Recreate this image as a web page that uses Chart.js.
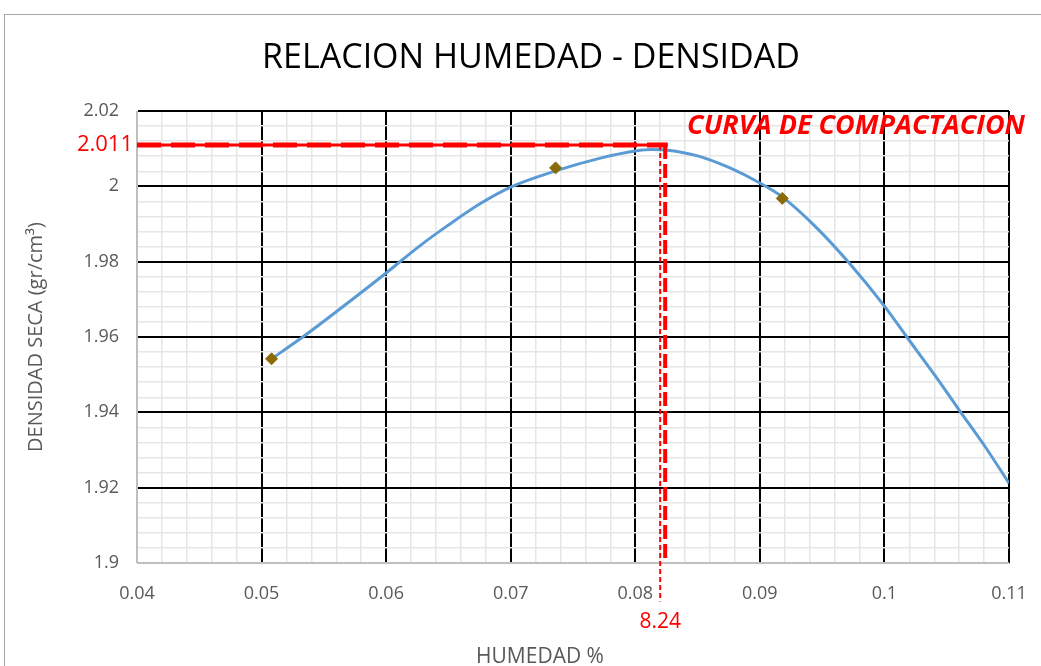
<!DOCTYPE html>
<html>
<head>
<meta charset="utf-8">
<script src="https://cdn.jsdelivr.net/npm/chart.js@4.4.1/dist/chart.umd.min.js"></script>
<style>
    html, body { margin: 0; padding: 0; background: #ffffff; overflow: hidden; }
    #frame { position: absolute; left: 4px; top: 14px; width: 1100px; height: 700px; border: 1px solid #a6a6a6; }
    #chart { position: absolute; left: 0; top: 0; }
</style>
</head>
<body>
<div id="frame"></div>
<canvas id="chart" width="1041" height="666"></canvas>
<script>
// ensayo proctor - puntos medidos
const humedad = [0.0508, 0.0736, 0.0918];
const densidad = [1.9542, 2.0049, 1.9968];

// curva de compactacion
const curvaHumedad = [0.0508, 0.0533, 0.0567, 0.06, 0.0627, 0.0649, 0.0675, 0.07, 0.0736, 0.0772, 0.08, 0.0813, 0.0826, 0.085, 0.0876, 0.09, 0.0918, 0.0944, 0.0971, 0.10, 0.1018, 0.1041, 0.106, 0.1081, 0.11];
const curvaDensidad = [1.9542, 1.9600, 1.9685, 1.9770, 1.9842, 1.9895, 1.9953, 1.9998, 2.0041, 2.0075, 2.0094, 2.0098, 2.0096, 2.0081, 2.0049, 2.0009, 1.9972, 1.9895, 1.9799, 1.9682, 1.9600, 1.9496, 1.9406, 1.9308, 1.9212];

// maxima densidad seca y humedad optima
const densidadMax = 2.011;
const humedadOptima = 0.0824;
const humedadOptimaGuia = 0.0820;
const etiquetaDensidad = '2.011';
const etiquetaHumedad = '8.24';

const xTickLabels = ['0.04', '0.05', '0.06', '0.07', '0.08', '0.09', '0.1', '0.11'];
const yTickLabels = ['1.9', '1.92', '1.94', '1.96', '1.98', '2', '2.02'];

const ROJO = '#ff0000';
const GRIS = '#595959';
const FONT = 'Open Sans';

const curva = curvaHumedad.map((x, i) => ({x: x, y: curvaDensidad[i]}));
const puntos = humedad.map((x, i) => ({x: x, y: densidad[i]}));

function gridColor(ctx) {
    if (ctx.index === 0) return '#bfbfbf';
    return ctx.index % 5 === 0 ? '#000000' : '#e6e6e6';
}
function gridWidth(ctx) {
    return ctx.index % 5 === 0 ? 2 : 1.5;
}

// textos: titulo, etiquetas en rojo, rotulo de la curva y titulo del eje x
const anotaciones = {
    id: 'anotaciones',
    afterDraw(chart) {
        const c = chart.ctx;
        const xs = chart.scales.x, ys = chart.scales.y;
        const area = chart.chartArea;
        c.save();
        c.textBaseline = 'middle';
        c.fillStyle = '#000000';
        c.font = '34px "' + FONT + '"';
        c.textAlign = 'center';
        c.fillText('RELACION HUMEDAD - DENSIDAD', 531, 58);

        c.fillStyle = ROJO;
        c.font = '22px "' + FONT + '"';
        c.textAlign = 'right';
        c.fillText(etiquetaDensidad, area.left - 4, ys.getPixelForValue(densidadMax));
        c.font = '21px "' + FONT + '"';
        c.textAlign = 'center';
        c.fillText(etiquetaHumedad, xs.getPixelForValue(humedadOptimaGuia), area.bottom + 59);
        c.font = 'italic bold 27px "' + FONT + '"';
        c.textAlign = 'right';
        c.fillText('CURVA DE COMPACTACION', area.right + 16, area.top + 15);

        c.fillStyle = GRIS;
        c.font = '21px "' + FONT + '"';
        c.textAlign = 'center';
        c.fillText('HUMEDAD %', 540, area.bottom + 94);
        c.restore();
    }
};

const config = {
    type: 'scatter',
    data: {
        datasets: [
            {
                data: curva,
                showLine: true,
                borderColor: '#5b9bd5',
                borderWidth: 3,
                pointRadius: 0,
                cubicInterpolationMode: 'monotone',
                order: 3
            },
            {
                data: puntos,
                showLine: false,
                pointStyle: 'rectRot',
                pointRadius: 6,
                pointBackgroundColor: '#8b6a08',
                pointBorderColor: '#8b6a08',
                order: 1
            },
            {
                data: [{x: 0.04, y: densidadMax}, {x: 0.0826, y: densidadMax}],
                showLine: true,
                borderColor: ROJO,
                borderWidth: 3,
                pointRadius: 0,
                order: 2
            },
            {
                data: [{x: 0.04, y: densidadMax}, {x: 0.0826, y: densidadMax}],
                showLine: true,
                borderColor: ROJO,
                borderWidth: 5,
                borderDash: [24, 10],
                pointRadius: 0,
                order: 2
            },
            {
                data: [{x: humedadOptima, y: densidadMax}, {x: humedadOptima, y: 1.9}],
                showLine: true,
                borderColor: ROJO,
                borderWidth: 4,
                borderDash: [14, 5],
                pointRadius: 0,
                order: 2
            },
            {
                data: [{x: humedadOptimaGuia, y: densidadMax}, {x: humedadOptimaGuia, y: 1.8898}],
                showLine: true,
                borderColor: ROJO,
                borderWidth: 2,
                borderDash: [5, 3],
                pointRadius: 0,
                clip: false,
                order: 2
            }
        ]
    },
    options: {
        responsive: false,
        animation: false,
        layout: {
            padding: {left: 0, right: 32, top: 111, bottom: 0}
        },
        plugins: {
            legend: {display: false},
            tooltip: {enabled: false},
            title: {display: false}
        },
        scales: {
            x: {
                type: 'linear',
                min: 0.04,
                max: 0.11,
                afterFit: (s) => { s.height = 103; s.paddingLeft = 0; s.paddingRight = 0; },
                ticks: {
                    stepSize: 0.002,
                    autoSkip: false,
                    maxRotation: 0,
                    padding: 20,
                    color: GRIS,
                    font: {family: FONT, size: 18},
                    callback: (v, i) => (i % 5 === 0 ? xTickLabels[i / 5] : '')
                },
                grid: {color: gridColor, lineWidth: gridWidth, drawTicks: false},
                border: {color: '#bfbfbf', width: 1}
            },
            y: {
                type: 'linear',
                min: 1.9,
                max: 2.02,
                afterFit: (s) => { s.width = 137; s.paddingTop = 0; s.paddingBottom = 0; },
                ticks: {
                    stepSize: 0.004,
                    autoSkip: false,
                    padding: 18,
                    color: GRIS,
                    font: {family: FONT, size: 18},
                    callback: (v, i) => (i % 5 === 0 ? yTickLabels[i / 5] : '')
                },
                grid: {color: gridColor, lineWidth: gridWidth, drawTicks: false},
                border: {color: '#bfbfbf', width: 1},
                title: {
                    display: true,
                    text: 'DENSIDAD SECA (gr/cm³)',
                    color: GRIS,
                    font: {family: FONT, size: 20},
                    padding: {top: 24, bottom: 0}
                }
            }
        }
    },
    plugins: [anotaciones]
};

const ctx = document.getElementById('chart').getContext('2d');
window.densidadChart = new Chart(ctx, config);
</script>
</body>
</html>
